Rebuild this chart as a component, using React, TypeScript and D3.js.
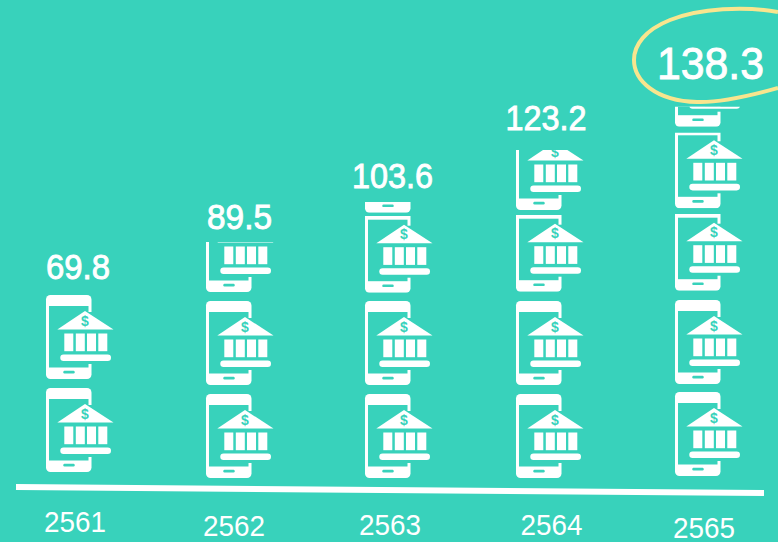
import React from "react";
import * as d3 from "d3";

// Data
const years = ["2561", "2562", "2563", "2564", "2565"];
const values = [69.8, 89.5, 103.6, 123.2, 138.3];
// Portion of each pictogram hidden at its top, bottom pictogram first
const hiddenTop2561 = [0, 0];
const hiddenTop2562 = [0, 0, 0.405];
const hiddenTop2563 = [0, 0, 0.087, 0.873];
const hiddenTop2564 = [0, 0, 0.087, 0.286];
const hiddenTop2565 = [0, 0, 0.087, 0.1, 0.762];
const hiddenTop = [hiddenTop2561, hiddenTop2562, hiddenTop2563, hiddenTop2564, hiddenTop2565];

// Layout (hand-placed in the original infographic)
const W = 778;
const H = 542;
const BG = "#38D2BB";
const ICON_W = 45.5;
const ICON_H = 84;
const iconLeft = [46, 206, 365, 516, 675];
const iconTops = [
  [388, 295],
  [394, 301, 208],
  [394, 301, 208.7, 128.7],
  [394, 301, 207.7, 126],
  [392, 300, 206.7, 124.3, 42.7],
];
const yearX = [75, 234, 390, 551.5, 704];
const yearY = [531.5, 536, 535, 535, 538];
const valueX = [78, 239.5, 392.5, 546, 710.5];
const valueY = [279, 229, 187.5, 130, 78.5];
const valueSize = [35, 35, 35, 35, 45];
const valueWidth = [64, 65, 81, 81, 107];

const hiddenPx = d3.scaleLinear().domain([0, 1]).range([0, ICON_H]);

const axisLine = d3.line().curve(d3.curveLinear);
const ring = d3.path();
ring.moveTo(778, 12);
ring.bezierCurveTo(745, 6, 700, 8, 670, 20);
ring.bezierCurveTo(645, 30, 634, 45, 634, 60);
ring.bezierCurveTo(634, 80, 655, 101, 697, 102);
ring.bezierCurveTo(725, 103, 760, 93, 778, 88);

const pillars = [18.3, 29.8, 41, 52.3];

function Icon({ x, y }: { x: number; y: number }) {
  return (
    <g transform={`translate(${x},${y})`}>
      <rect width={ICON_W} height={ICON_H} rx={4.5} fill="#fff" />
      <rect x={3} y={11} width={39.5} height={61.5} fill={BG} />
      <rect x={30} y={17} width={ICON_W - 30 + 1} height={52} fill={BG} />
      <rect x={17.3} y={75.7} width={11.4} height={2.7} rx={1.2} fill={BG} />
      <path d="M39 16 L67.5 34.5 L11.3 34.5 Z" fill="#fff" />
      <text x={39} y={30.5} textAnchor="middle" fontFamily="Liberation Sans" fontWeight={700} fontSize={14} fill={BG}>$</text>
      {pillars.map((c) => (
        <rect key={c} x={c} y={38.5} width={9} height={17.7} fill="#fff" />
      ))}
      <rect x={14.3} y={59.5} width={50.7} height={6.6} rx={3.3} fill="#fff" />
    </g>
  );
}

export default function App() {
  return (
    <svg width={W} height={H} viewBox={`0 0 ${W} ${H}`} style={{ position: "absolute", left: 0, top: 0 }}>
      <rect width={W} height={H} fill={BG} />
      {years.map((yr, i) => (
        <g key={yr}>
          {hiddenTop[i].map((h, j) => (
            <g key={j}>
              <clipPath id={`clip-${i}-${j}`}>
                <rect x={iconLeft[i] - 2} y={iconTops[i][j] + hiddenPx(h)} width={ICON_W + 30} height={ICON_H - hiddenPx(h)} />
              </clipPath>
              <g clipPath={`url(#clip-${i}-${j})`}>
                <Icon x={iconLeft[i]} y={iconTops[i][j]} />
              </g>
            </g>
          ))}
          <text x={valueX[i]} y={valueY[i]} textAnchor="middle" fontFamily="Liberation Sans" fontSize={valueSize[i]} fill="#fff" stroke="#fff" strokeWidth={0.9} textLength={valueWidth[i]} lengthAdjust="spacingAndGlyphs">
            {values[i].toFixed(1)}
          </text>
          <text x={yearX[i]} y={yearY[i]} textAnchor="middle" fontFamily="Liberation Sans" fontSize={30} fill="#fff" textLength={62} lengthAdjust="spacingAndGlyphs">
            {yr}
          </text>
        </g>
      ))}
      <path d={axisLine([[16, 487], [764, 493]]) as string} stroke="#fff" strokeWidth={6} fill="none" />
      <path d={ring.toString()} fill="none" stroke="#F8E58E" strokeWidth={4} />
    </svg>
  );
}
